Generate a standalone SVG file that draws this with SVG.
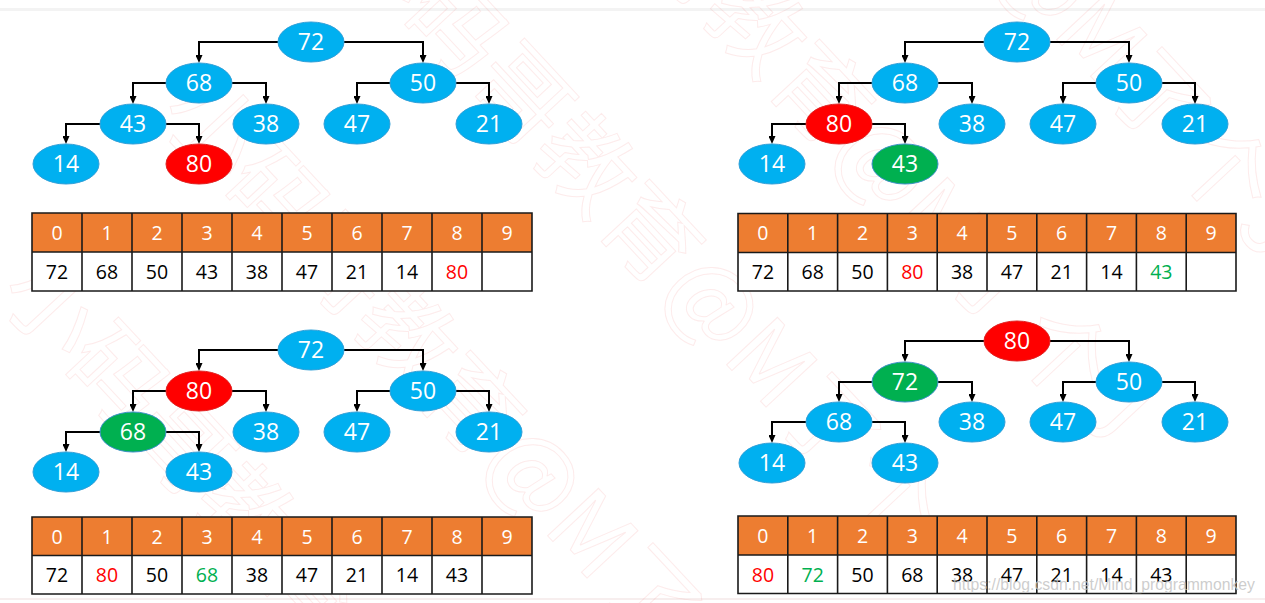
<svg xmlns="http://www.w3.org/2000/svg" width="1265" height="603" viewBox="0 0 1265 603">
<defs>
<marker id="arr" viewBox="0 0 8 7" markerWidth="8" markerHeight="7" refX="3" refY="3.5" orient="auto" markerUnits="userSpaceOnUse">
<path d="M0,0 L8,3.5 L0,7 z" fill="#000"/>
</marker>
<style>
.e{fill:none;stroke:#000;stroke-width:2;marker-end:url(#arr)}
.b{fill:#00B0F0;stroke:#2f9fd8;stroke-width:1}
.r{fill:#FF0000;stroke:#e02020;stroke-width:1}
.g{fill:#00B050;stroke:#3d8fc8;stroke-width:1}
.nt{font-family:"Open Sans","Liberation Sans",sans-serif;font-size:23px;fill:#fff;text-anchor:middle}
.hd{fill:#ED7D31}
.bd{fill:#fff}
.grid{fill:none;stroke:#1a1a1a;stroke-width:1.6}
.ht{font-family:"Open Sans","Liberation Sans",sans-serif;font-size:19.5px;fill:#fff;text-anchor:middle}
.vt{font-family:"Open Sans","Liberation Sans",sans-serif;font-size:19.5px;fill:#000;text-anchor:middle}
.red{fill:#FF0000}
.grn{fill:#00B050}
.wm{font-family:"Noto Sans CJK SC",sans-serif;font-size:95px;fill:none;stroke:#f08080;stroke-opacity:0.16;stroke-width:1;text-anchor:middle}
</style>
</defs>
<rect width="1265" height="603" fill="#fff"/>
<rect x="0" y="8" width="1265" height="3" fill="#f3f3f3"/>
<rect x="0" y="598" width="1265" height="2" fill="#f7eeee"/>

<g id="watermark">
<text class="wm" transform="translate(321,595) rotate(47)" y="33">小码哥教育@M了个J</text>
<text class="wm" transform="translate(481,416) rotate(47)" y="33">小码哥教育@M了个J</text>
<text class="wm" transform="translate(660,245) rotate(47)" y="33">小码哥教育@M了个J</text>
<text class="wm" transform="translate(830,105) rotate(47)" y="33">小码哥教育@M了个J</text>
<text class="wm" transform="translate(990,-80) rotate(47)" y="33">小码哥教育@M了个J</text>
</g>

<g id="connectors">
<path class="e" d="M278,42 H199 V58"/>
<path class="e" d="M344,42 H423 V58"/>
<path class="e" d="M166,83 H133 V99"/>
<path class="e" d="M232,83 H266 V99"/>
<path class="e" d="M390,83 H357 V99"/>
<path class="e" d="M456,83 H489 V99"/>
<path class="e" d="M100,124 H66 V139"/>
<path class="e" d="M166,124 H199 V139"/>
<path class="e" d="M984,42 H905 V58"/>
<path class="e" d="M1050,42 H1129 V58"/>
<path class="e" d="M872,83 H839 V99"/>
<path class="e" d="M938,83 H972 V99"/>
<path class="e" d="M1096,83 H1063 V99"/>
<path class="e" d="M1162,83 H1195 V99"/>
<path class="e" d="M806,124 H772 V139"/>
<path class="e" d="M872,124 H905 V139"/>
<path class="e" d="M278,350 H199 V366"/>
<path class="e" d="M344,350 H423 V366"/>
<path class="e" d="M166,391 H133 V407"/>
<path class="e" d="M232,391 H266 V407"/>
<path class="e" d="M390,391 H357 V407"/>
<path class="e" d="M456,391 H489 V407"/>
<path class="e" d="M100,432 H66 V447"/>
<path class="e" d="M166,432 H199 V447"/>
<path class="e" d="M984,341 H905 V357"/>
<path class="e" d="M1050,341 H1129 V357"/>
<path class="e" d="M872,382 H839 V397"/>
<path class="e" d="M938,382 H972 V397"/>
<path class="e" d="M1096,382 H1063 V397"/>
<path class="e" d="M1162,382 H1195 V397"/>
<path class="e" d="M806,422 H772 V438"/>
<path class="e" d="M872,422 H905 V438"/>
</g>

<g id="tl-72"><ellipse class="b" cx="311" cy="42" rx="33" ry="20"/><text class="nt" x="311" y="50">72</text></g>
<g id="tl-68"><ellipse class="b" cx="199" cy="83" rx="33" ry="20"/><text class="nt" x="199" y="91">68</text></g>
<g id="tl-50"><ellipse class="b" cx="423" cy="83" rx="33" ry="20"/><text class="nt" x="423" y="91">50</text></g>
<g id="tl-43"><ellipse class="b" cx="133" cy="124" rx="33" ry="20"/><text class="nt" x="133" y="132">43</text></g>
<g id="tl-38"><ellipse class="b" cx="266" cy="124" rx="33" ry="20"/><text class="nt" x="266" y="132">38</text></g>
<g id="tl-47"><ellipse class="b" cx="357" cy="124" rx="33" ry="20"/><text class="nt" x="357" y="132">47</text></g>
<g id="tl-21"><ellipse class="b" cx="489" cy="124" rx="33" ry="20"/><text class="nt" x="489" y="132">21</text></g>
<g id="tl-14"><ellipse class="b" cx="66" cy="164" rx="33" ry="20"/><text class="nt" x="66" y="172">14</text></g>
<g id="tl-80"><ellipse class="r" cx="199" cy="164" rx="33" ry="20"/><text class="nt" x="199" y="172">80</text></g>

<g id="tr-72"><ellipse class="b" cx="1017" cy="42" rx="33" ry="20"/><text class="nt" x="1017" y="50">72</text></g>
<g id="tr-68"><ellipse class="b" cx="905" cy="83" rx="33" ry="20"/><text class="nt" x="905" y="91">68</text></g>
<g id="tr-50"><ellipse class="b" cx="1129" cy="83" rx="33" ry="20"/><text class="nt" x="1129" y="91">50</text></g>
<g id="tr-80"><ellipse class="r" cx="839" cy="124" rx="33" ry="20"/><text class="nt" x="839" y="132">80</text></g>
<g id="tr-38"><ellipse class="b" cx="972" cy="124" rx="33" ry="20"/><text class="nt" x="972" y="132">38</text></g>
<g id="tr-47"><ellipse class="b" cx="1063" cy="124" rx="33" ry="20"/><text class="nt" x="1063" y="132">47</text></g>
<g id="tr-21"><ellipse class="b" cx="1195" cy="124" rx="33" ry="20"/><text class="nt" x="1195" y="132">21</text></g>
<g id="tr-14"><ellipse class="b" cx="772" cy="164" rx="33" ry="20"/><text class="nt" x="772" y="172">14</text></g>
<g id="tr-43"><ellipse class="g" cx="905" cy="164" rx="33" ry="20"/><text class="nt" x="905" y="172">43</text></g>

<g id="bl-72"><ellipse class="b" cx="311" cy="350" rx="33" ry="20"/><text class="nt" x="311" y="358">72</text></g>
<g id="bl-80"><ellipse class="r" cx="199" cy="391" rx="33" ry="20"/><text class="nt" x="199" y="399">80</text></g>
<g id="bl-50"><ellipse class="b" cx="423" cy="391" rx="33" ry="20"/><text class="nt" x="423" y="399">50</text></g>
<g id="bl-68"><ellipse class="g" cx="133" cy="432" rx="33" ry="20"/><text class="nt" x="133" y="440">68</text></g>
<g id="bl-38"><ellipse class="b" cx="266" cy="432" rx="33" ry="20"/><text class="nt" x="266" y="440">38</text></g>
<g id="bl-47"><ellipse class="b" cx="357" cy="432" rx="33" ry="20"/><text class="nt" x="357" y="440">47</text></g>
<g id="bl-21"><ellipse class="b" cx="489" cy="432" rx="33" ry="20"/><text class="nt" x="489" y="440">21</text></g>
<g id="bl-14"><ellipse class="b" cx="66" cy="472" rx="33" ry="20"/><text class="nt" x="66" y="480">14</text></g>
<g id="bl-43"><ellipse class="b" cx="199" cy="472" rx="33" ry="20"/><text class="nt" x="199" y="480">43</text></g>

<g id="br-80"><ellipse class="r" cx="1017" cy="341" rx="33" ry="20"/><text class="nt" x="1017" y="349">80</text></g>
<g id="br-72"><ellipse class="g" cx="905" cy="382" rx="33" ry="20"/><text class="nt" x="905" y="390">72</text></g>
<g id="br-50"><ellipse class="b" cx="1129" cy="382" rx="33" ry="20"/><text class="nt" x="1129" y="390">50</text></g>
<g id="br-68"><ellipse class="b" cx="839" cy="422" rx="33" ry="20"/><text class="nt" x="839" y="430">68</text></g>
<g id="br-38"><ellipse class="b" cx="972" cy="422" rx="33" ry="20"/><text class="nt" x="972" y="430">38</text></g>
<g id="br-47"><ellipse class="b" cx="1063" cy="422" rx="33" ry="20"/><text class="nt" x="1063" y="430">47</text></g>
<g id="br-21"><ellipse class="b" cx="1195" cy="422" rx="33" ry="20"/><text class="nt" x="1195" y="430">21</text></g>
<g id="br-14"><ellipse class="b" cx="772" cy="463" rx="33" ry="20"/><text class="nt" x="772" y="471">14</text></g>
<g id="br-43"><ellipse class="b" cx="905" cy="463" rx="33" ry="20"/><text class="nt" x="905" y="471">43</text></g>

<g id="tl-table">
<rect class="hd" x="32" y="213" width="500" height="39"/>
<rect class="bd" x="32" y="252" width="500" height="39"/>
<path class="grid" d="M32,213 H532 V291 H32 Z M32,252 H532 M82,213 V291 M132,213 V291 M182,213 V291 M232,213 V291 M282,213 V291 M332,213 V291 M382,213 V291 M432,213 V291 M482,213 V291"/>
<text class="ht" x="57" y="240">0</text><text class="ht" x="107" y="240">1</text><text class="ht" x="157" y="240">2</text><text class="ht" x="207" y="240">3</text><text class="ht" x="257" y="240">4</text><text class="ht" x="307" y="240">5</text><text class="ht" x="357" y="240">6</text><text class="ht" x="407" y="240">7</text><text class="ht" x="457" y="240">8</text><text class="ht" x="507" y="240">9</text>
<text class="vt" x="57" y="279">72</text><text class="vt" x="107" y="279">68</text><text class="vt" x="157" y="279">50</text><text class="vt" x="207" y="279">43</text><text class="vt" x="257" y="279">38</text><text class="vt" x="307" y="279">47</text><text class="vt" x="357" y="279">21</text><text class="vt" x="407" y="279">14</text><text class="vt red" x="457" y="279">80</text>
</g>

<g id="tr-table">
<rect class="hd" x="738" y="213.5" width="498" height="39"/>
<rect class="bd" x="738" y="252.5" width="498" height="38.5"/>
<path class="grid" d="M738,213.5 H1236 V291 H738 Z M738,252.5 H1236 M787.8,213.5 V291 M837.6,213.5 V291 M887.4,213.5 V291 M937.2,213.5 V291 M987,213.5 V291 M1036.8,213.5 V291 M1086.6,213.5 V291 M1136.4,213.5 V291 M1186.2,213.5 V291"/>
<text class="ht" x="762.9" y="240">0</text><text class="ht" x="812.7" y="240">1</text><text class="ht" x="862.5" y="240">2</text><text class="ht" x="912.3" y="240">3</text><text class="ht" x="962.1" y="240">4</text><text class="ht" x="1011.9" y="240">5</text><text class="ht" x="1061.7" y="240">6</text><text class="ht" x="1111.5" y="240">7</text><text class="ht" x="1161.3" y="240">8</text><text class="ht" x="1211.1" y="240">9</text>
<text class="vt" x="762.9" y="279">72</text><text class="vt" x="812.7" y="279">68</text><text class="vt" x="862.5" y="279">50</text><text class="vt red" x="912.3" y="279">80</text><text class="vt" x="962.1" y="279">38</text><text class="vt" x="1011.9" y="279">47</text><text class="vt" x="1061.7" y="279">21</text><text class="vt" x="1111.5" y="279">14</text><text class="vt grn" x="1161.3" y="279">43</text>
</g>

<g id="bl-table">
<rect class="hd" x="32" y="517" width="500" height="38.5"/>
<rect class="bd" x="32" y="555.5" width="500" height="38.5"/>
<path class="grid" d="M32,517 H532 V594 H32 Z M32,555.5 H532 M82,517 V594 M132,517 V594 M182,517 V594 M232,517 V594 M282,517 V594 M332,517 V594 M382,517 V594 M432,517 V594 M482,517 V594"/>
<text class="ht" x="57" y="543.5">0</text><text class="ht" x="107" y="543.5">1</text><text class="ht" x="157" y="543.5">2</text><text class="ht" x="207" y="543.5">3</text><text class="ht" x="257" y="543.5">4</text><text class="ht" x="307" y="543.5">5</text><text class="ht" x="357" y="543.5">6</text><text class="ht" x="407" y="543.5">7</text><text class="ht" x="457" y="543.5">8</text><text class="ht" x="507" y="543.5">9</text>
<text class="vt" x="57" y="582">72</text><text class="vt red" x="107" y="582">80</text><text class="vt" x="157" y="582">50</text><text class="vt grn" x="207" y="582">68</text><text class="vt" x="257" y="582">38</text><text class="vt" x="307" y="582">47</text><text class="vt" x="357" y="582">21</text><text class="vt" x="407" y="582">14</text><text class="vt" x="457" y="582">43</text>
</g>

<g id="br-table">
<rect class="hd" x="738" y="516" width="498" height="39"/>
<rect class="bd" x="738" y="555" width="498" height="38.5"/>
<path class="grid" d="M738,516 H1236 V593.5 H738 Z M738,555 H1236 M787.8,516 V593.5 M837.6,516 V593.5 M887.4,516 V593.5 M937.2,516 V593.5 M987,516 V593.5 M1036.8,516 V593.5 M1086.6,516 V593.5 M1136.4,516 V593.5 M1186.2,516 V593.5"/>
<text class="ht" x="762.9" y="542.5">0</text><text class="ht" x="812.7" y="542.5">1</text><text class="ht" x="862.5" y="542.5">2</text><text class="ht" x="912.3" y="542.5">3</text><text class="ht" x="962.1" y="542.5">4</text><text class="ht" x="1011.9" y="542.5">5</text><text class="ht" x="1061.7" y="542.5">6</text><text class="ht" x="1111.5" y="542.5">7</text><text class="ht" x="1161.3" y="542.5">8</text><text class="ht" x="1211.1" y="542.5">9</text>
<text class="vt red" x="762.9" y="581.5">80</text><text class="vt grn" x="812.7" y="581.5">72</text><text class="vt" x="862.5" y="581.5">50</text><text class="vt" x="912.3" y="581.5">68</text><text class="vt" x="962.1" y="581.5">38</text><text class="vt" x="1011.9" y="581.5">47</text><text class="vt" x="1061.7" y="581.5">21</text><text class="vt" x="1111.5" y="581.5">14</text><text class="vt" x="1161.3" y="581.5">43</text>
</g>

<text x="953" y="590" font-family="Liberation Sans, Arial, sans-serif" font-size="17" fill="#c4c4c4" fill-opacity="0.85" textLength="302" lengthAdjust="spacingAndGlyphs">https://blog.csdn.net/Mind_programmonkey</text>
</svg>
